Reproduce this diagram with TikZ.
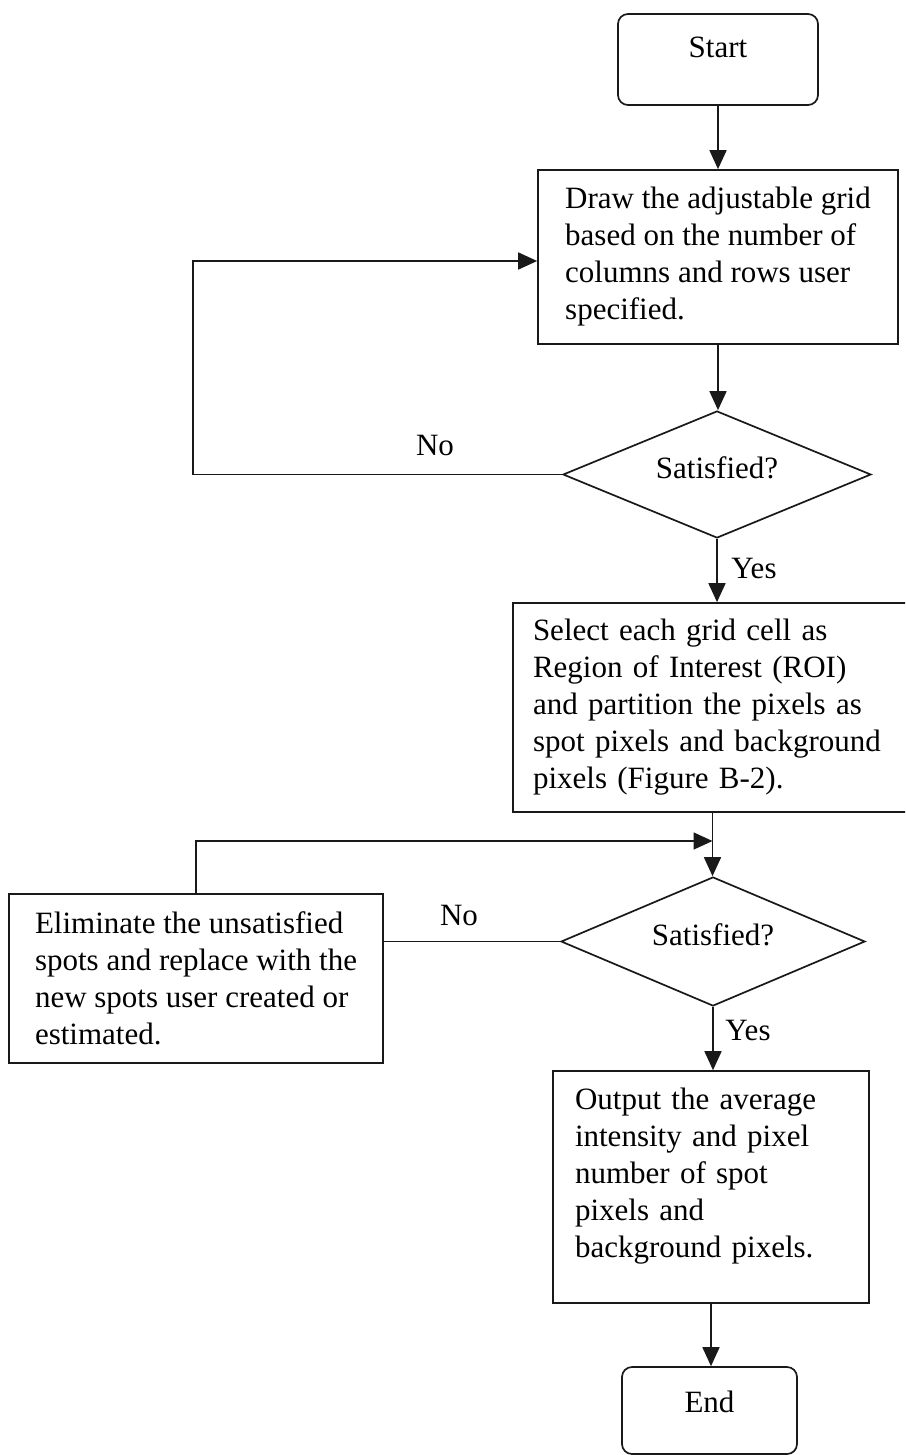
\documentclass[tikz,border=0pt]{standalone}
\usepackage{fontspec}
\setmainfont{Liberation Serif}
\usetikzlibrary{shapes.geometric,arrows.meta}
\begin{document}
\begin{tikzpicture}[x=1pt,y=-1pt,
  every node/.style={font=\fontsize{31}{37}\selectfont, text=black},
  line/.style={line width=1.7pt, draw=black!90},
  arr/.style={line, -{Triangle[length=19pt,width=17pt]}},
  term/.style={draw=black!90, line width=1.7pt, rounded corners=10pt, inner sep=0pt, text height=21pt},
  proc/.style={draw=black!90, line width=1.7pt, inner sep=0pt, align=left},
  dec/.style={draw=black!90, diamond, line width=1.7pt, inner sep=0pt, aspect=2.4, text height=21pt, text depth=13pt},
]
\clip (0,0) rectangle (905,1455);
\fill[white] (0,0) rectangle (905,1455);

\node[term, minimum width=200pt, minimum height=91pt, text depth=24pt] (start) at (718,59.5) {Start};
\node[proc, minimum width=360pt, minimum height=174pt] (box1) at (718,257) {Draw the adjustable grid\\based on the number of\\columns and rows user\\specified.};
\node[dec, minimum width=308pt, minimum height=127pt] (d1) at (717,474.5) {Satisfied?};
\node[proc, minimum width=399pt, minimum height=209pt, text width=359pt, inner xsep=20pt] (box2) at (712.5,707.5) {Select each grid cell as\\Region of Interest (ROI)\\and partition the pixels as\\spot pixels and background\\pixels (Figure B-2).};
\node[dec, minimum width=304pt, minimum height=129pt] (d2) at (713,941.5) {Satisfied?};
\node[proc, minimum width=374pt, minimum height=169pt] (box3) at (196,978.5) {Eliminate the unsatisfied\\spots and replace with the\\new spots user created or\\estimated.};
\node[proc, minimum width=316pt, minimum height=232pt, text width=272pt, inner xsep=22pt, text depth=177pt] (box4) at (711,1187) {Output the average\\intensity and pixel\\number of spot\\pixels and\\background pixels.};
\node[term, minimum width=175pt, minimum height=87pt, text depth=18pt] (end) at (709.5,1410.5) {End};

\draw[arr] (start.south) -- (start.south |- box1.north);
\draw[arr] (box1.south) -- (box1.south |- d1.north);
\coordinate (l1) at (193,261);
\draw[arr] (d1.west) -| (l1) -- (l1 -| box1.west);
\node (no1) at (435,445) {No};
\draw[arr] (d1.south) -- (d1.south |- box2.north);
\node (yes1) at (754,568) {Yes};
\draw[arr] (box2.south) -- (box2.south |- d2.north);
\coordinate (m2) at (712.5,841);
\draw[arr] (box3.north) |- (m2);
\draw[line] (d2.west) -- (d2.west -| box3.east);
\node (no2) at (459,915) {No};
\draw[arr] (d2.south) -- (d2.south |- box4.north);
\node (yes2) at (748,1030) {Yes};
\draw[arr] (box4.south) -- (box4.south |- end.north);
\end{tikzpicture}
\end{document}
